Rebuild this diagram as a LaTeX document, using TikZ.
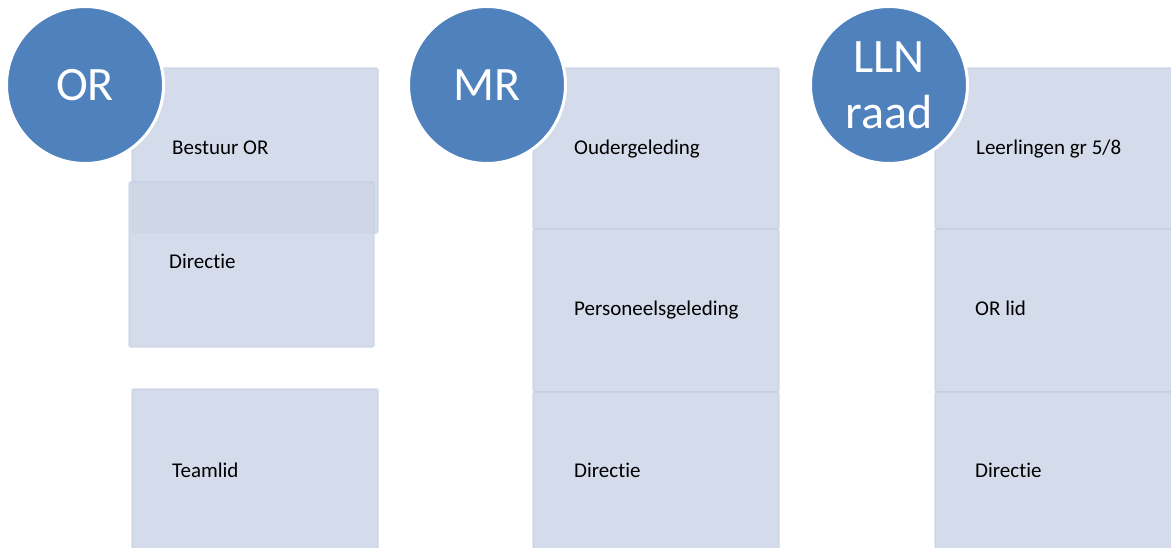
\documentclass[tikz,border=0pt]{standalone}
\usepackage{fontspec}
\setmainfont[RawFeature=-liga]{Carlito}
\definecolor{circ}{HTML}{4F81BD}
\definecolor{boxfill}{HTML}{CED6E7}
\definecolor{boxline}{HTML}{BFC9E0}
\newcommand{\dirword}{Direct\kern0pt ie}
\begin{document}
\begin{tikzpicture}[x=1pt,y=-1pt,
  panel/.style={fill=boxfill, fill opacity=0.88, draw=boxline, draw opacity=0.4,
    line width=2pt, rounded corners=2pt, inner sep=0pt, anchor=north west},
  badge/.style={circle, fill=circ, draw=white, line width=3pt, minimum size=157pt,
    inner sep=0pt, text=white, align=center, font=\fontsize{48}{56}\selectfont},
  lbl/.style={anchor=base west, inner sep=0pt, text=black, font=\fontsize{21}{25}\selectfont}]
\useasboundingbox (0,0) rectangle (1171,548);
% OR column
\node[panel, minimum width=246pt, minimum height=165pt] (orA) at (131,67) {};
\node[panel, minimum width=245pt, minimum height=165pt] (orB) at (128,181) {};
\node[panel, minimum width=246pt, minimum height=180pt] (orC) at (131,388) {};
% MR column
\node[panel, minimum width=246pt, minimum height=161pt] (mrA) at (532,67) {};
\node[panel, minimum width=246pt, minimum height=163pt] (mrB) at (532,228) {};
\node[panel, minimum width=246pt, minimum height=180pt] (mrC) at (532,391) {};
% LLN column
\node[panel, minimum width=246pt, minimum height=161pt] (llA) at (934,67) {};
\node[panel, minimum width=246pt, minimum height=163pt] (llB) at (934,228) {};
\node[panel, minimum width=246pt, minimum height=180pt] (llC) at (934,391) {};
% labels
\node[lbl] (tA) at (172,155) {Bestuur OR};
\node[lbl] (tB) at (169,269) {\dirword};
\node[lbl] (tC) at (172,477) {Teamlid};
\node[lbl] (tD) at (574,155) {Oudergeleding};
\node[lbl] (tE) at (574,316) {Personeelsgeleding};
\node[lbl] (tF) at (574,477) {\dirword};
\node[lbl] (tG) at (976,155) {Leerlingen gr 5/8};
\node[lbl] (tH) at (975,316) {OR lid};
\node[lbl] (tI) at (975,477) {\dirword};
% circles
\node[badge] (cOR) at (85,85) {OR};
\node[badge] (cMR) at (487,85) {MR};
\node[badge] (cLL) at (889,85) {LLN\\raad};
\end{tikzpicture}
\end{document}
